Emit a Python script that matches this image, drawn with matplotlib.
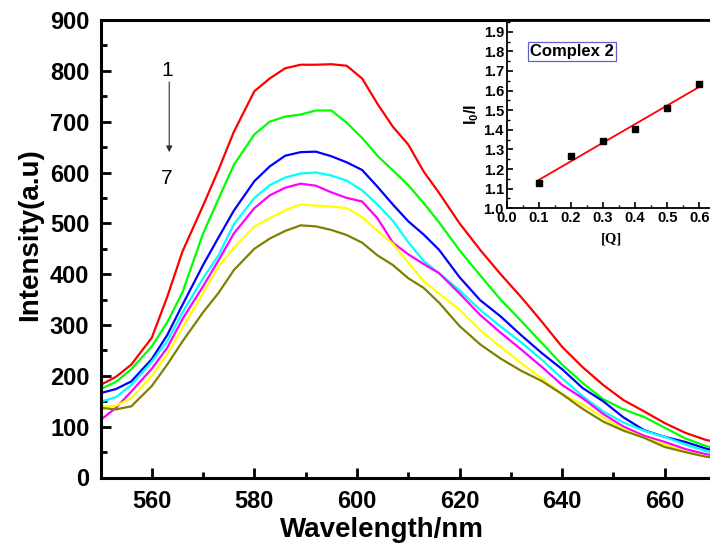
import numpy as np
import matplotlib
matplotlib.use("Agg")
import matplotlib.pyplot as plt
from matplotlib.ticker import MultipleLocator, FormatStrFormatter

plt.rcParams['font.family'] = ['Liberation Sans', 'DejaVu Sans']
plt.rcParams['mathtext.fontset'] = 'custom'
plt.rcParams['mathtext.rm'] = 'Liberation Sans:bold'
plt.rcParams['mathtext.bf'] = 'Liberation Sans:bold'
plt.rcParams['mathtext.it'] = 'Liberation Sans:bold'

# ---------------- data ----------------
wavelength = [550, 553, 556, 560, 563, 566, 570, 573, 576, 580, 583, 586, 589, 592,
              595, 598, 601, 604, 607, 610, 613, 616, 620, 624, 628, 632, 636, 640,
              644, 648, 652, 656, 660, 664, 668, 670]

curve1 = [182, 198, 222, 275, 355, 445, 535, 605, 680, 760, 785, 805, 812, 812,
          813, 810, 785, 735, 690, 655, 602, 560, 500, 448, 400, 355, 307, 257,
          217, 182, 152, 130, 107, 88, 74, 70]
curve2 = [174, 188, 213, 258, 305, 365, 480, 548, 615, 675, 700, 710, 714, 722,
          722, 698, 668, 633, 604, 575, 540, 502, 447, 398, 350, 308, 265, 222,
          186, 154, 134, 119, 98, 77, 62, 57]
curve3 = [166, 174, 189, 233, 280, 340, 418, 472, 525, 583, 612, 633, 640, 641,
          632, 620, 605, 572, 537, 504, 478, 448, 394, 349, 317, 280, 245, 213,
          176, 150, 118, 93, 80, 70, 57, 52]
curve4 = [149, 158, 182, 228, 268, 325, 392, 437, 498, 550, 575, 590, 598, 600,
          594, 584, 565, 537, 505, 463, 426, 402, 368, 330, 297, 266, 232, 195,
          160, 130, 108, 92, 80, 65, 52, 48]
curve5 = [113, 137, 169, 214, 255, 312, 376, 427, 480, 530, 555, 570, 578, 574,
          561, 550, 543, 510, 462, 439, 420, 402, 362, 320, 285, 252, 218, 182,
          156, 125, 100, 82, 70, 56, 46, 43]
curve6 = [139, 141, 156, 200, 242, 295, 363, 415, 452, 494, 510, 526, 537, 535,
          533, 530, 512, 485, 460, 423, 386, 362, 330, 290, 257, 225, 195, 164,
          144, 118, 95, 78, 65, 51, 41, 38]
curve7 = [137, 134, 140, 180, 222, 268, 325, 363, 408, 450, 470, 485, 496, 494,
          487, 477, 462, 437, 418, 392, 373, 344, 298, 262, 234, 210, 190, 164,
          135, 110, 92, 78, 60, 50, 41, 39]

curves = [curve1, curve2, curve3, curve4, curve5, curve6, curve7]
colors = ['#ff0000', '#00ff00', '#0000ff', '#00ffff', '#ff00ff', '#ffff00', '#808000']

q_conc = [0.1, 0.2, 0.3, 0.4, 0.5, 0.6]
i0_over_i = [1.13, 1.265, 1.345, 1.405, 1.51, 1.635]

# ---------------- figure ----------------
fig = plt.figure(figsize=(7.10, 5.54), dpi=100)
W, H = 710.0, 554.0
left_px, right_px, top_px, bot_px = 100.5, 716.0, 20.0, 477.5
ax = fig.add_axes([left_px / W, 1 - bot_px / H, (right_px - left_px) / W, (bot_px - top_px) / H])

for c, col in zip(curves, colors):
    ax.plot(wavelength, c, color=col, lw=1.6, solid_joinstyle='round')

ax.set_xlim(550, 670)
ax.set_ylim(0, 900)
ax.xaxis.set_major_locator(MultipleLocator(20))
ax.xaxis.set_minor_locator(MultipleLocator(10))
ax.yaxis.set_major_locator(MultipleLocator(100))
ax.yaxis.set_minor_locator(MultipleLocator(50))
ax.tick_params(which='major', direction='in', length=7, width=2, labelsize=17, pad=8)
ax.tick_params(which='minor', direction='in', length=4, width=2)
ax.tick_params(axis='x', which='major', pad=9)
for lab in ax.get_xticklabels() + ax.get_yticklabels():
    lab.set_fontweight('bold')
for s in ax.spines.values():
    s.set_linewidth(2.2)

ax.set_xlabel('Wavelength/nm', fontsize=20, fontweight='bold')
ax.set_ylabel('Intensity(a.u)', fontsize=20, fontweight='bold')
ax.xaxis.set_label_coords((382 - left_px) / (right_px - left_px), -(530 - bot_px) / (bot_px - top_px), transform=ax.transAxes)
ax.xaxis.label.set_va('center')
ax.yaxis.set_label_coords(-(100.5 - 30) / (right_px - left_px), (bot_px - 235) / (bot_px - top_px), transform=ax.transAxes)
ax.yaxis.label.set_va('center')

# annotation 1 -> 7
ax.text(563.0, 800, '1', fontsize=15, ha='center', va='center')
ax.text(563.0, 588, '7', fontsize=15, ha='center', va='center')
ax.annotate('', xy=(563.4, 640), xytext=(563.4, 778),
            arrowprops=dict(arrowstyle='-|>', color='#333333', lw=0.8,
                            mutation_scale=9, shrinkA=0, shrinkB=0))

# ---------------- inset ----------------
in_left, in_bot, in_top = 506.7, 208.3, 20.7
px_per_x = 321.0
in_w = 0.65 * px_per_x
axi = fig.add_axes([in_left / W, 1 - in_bot / H, in_w / W, (in_bot - in_top) / H])
axi.set_xlim(0, 0.65)
axi.set_ylim(1.0, 1.956)
slope, intercept = np.polyfit(q_conc, i0_over_i, 1)
xf = np.array([q_conc[0], q_conc[-1]])
axi.plot(xf, slope * xf + intercept, color='#ff0000', lw=1.3)
axi.plot(q_conc, i0_over_i, 's', color='black', ms=4.5)
axi.xaxis.set_major_locator(MultipleLocator(0.1))
axi.xaxis.set_minor_locator(MultipleLocator(0.05))
axi.yaxis.set_major_locator(MultipleLocator(0.1))
axi.yaxis.set_minor_locator(MultipleLocator(0.05))
axi.tick_params(which='major', direction='in', length=4, width=1.2, labelsize=10.5, pad=2)
axi.tick_params(which='minor', direction='in', length=2, width=1.0)
axi.xaxis.set_major_formatter(FormatStrFormatter('%.1f'))
axi.yaxis.set_major_formatter(FormatStrFormatter('%.1f'))
for lab in axi.get_xticklabels() + axi.get_yticklabels():
    lab.set_fontweight('bold')
for s in axi.spines.values():
    s.set_linewidth(1.3)
axi.set_xlabel('[Q]', fontsize=10.5, fontweight='bold', family=['Liberation Serif'], labelpad=5)
axi.set_ylabel(r'$\mathbf{I_0/I}$', fontsize=11.5, labelpad=2)
axi.text(0.072, 1.8, 'Complex 2', fontsize=12, fontweight='bold', ha='left', va='center',
         bbox=dict(boxstyle='square,pad=0.12', fc='white', ec='#6060d0', lw=0.9))

fig.savefig('out.png', dpi=100)
